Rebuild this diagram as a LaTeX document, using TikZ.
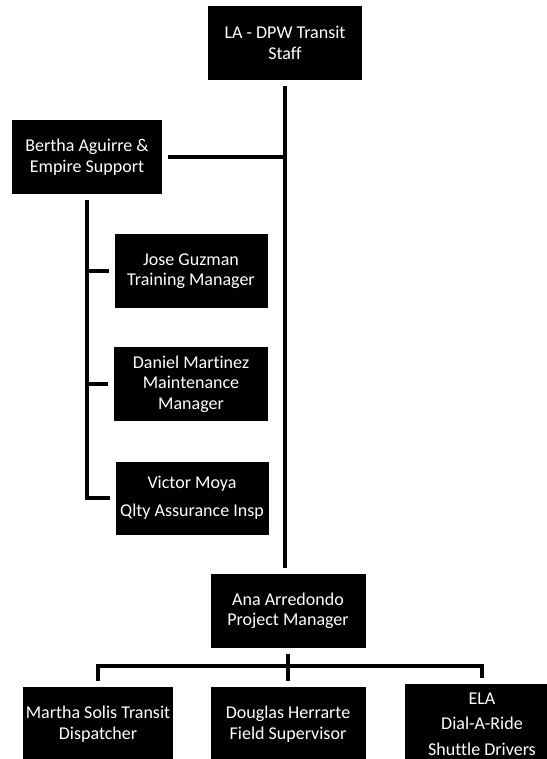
\documentclass[tikz,border=0pt]{standalone}
\usepackage{fontspec}
\setmainfont[Ligatures={NoCommon}]{Carlito}
\usepackage{tikz}
\usetikzlibrary{positioning}
\tikzset{
  staffbox/.style={fill=black,text=white,minimum width=154pt,minimum height=74pt,inner sep=0pt,outer sep=6pt,align=center,font=\fontsize{18}{20.5}\selectfont},
  link/.style={black,line width=3.5pt}
}
\begin{document}
\begin{tikzpicture}[x=1pt,y=-1pt]
\useasboundingbox (0,0) rectangle (546,759);

\node[staffbox] (dpw) at (285,43) {LA - DPW Transit\\Staff};
\node[staffbox,minimum width=150pt] (bertha) at (87,157) {Bertha Aguirre \&\\Empire Support};

\node[staffbox,minimum width=153pt] (jose) at (191,271) {Jose Guzman\\Training Manager};
\node[staffbox] (daniel) at (191,384) {Daniel Martinez\\Maintenance\\Manager};
\node[staffbox,minimum width=153pt,minimum height=73pt] (victor) at (192,498) {Victor Moya\\[8pt]Qlty Assurance Insp};

\node[staffbox,minimum width=155pt] (ana) at (288,611) {Ana Arredondo\\Project Manager};

\node[staffbox,minimum width=150pt] (martha) at (98,724) {Martha Solis Transit\\Dispatcher};
\node[staffbox,minimum width=155pt] (douglas) at (288,724) {Douglas Herrarte\\Field Supervisor};
\node[staffbox,minimum height=80pt] (ela) at (482,724) {ELA\\[5pt]Dial-A-Ride\\[5pt]Shuttle Drivers};

\draw [link] (dpw.south)--(dpw.south |- ana.north);
\draw [link] (bertha.east)--(bertha.east -| dpw.south);
\draw [link] (bertha.south) |- (victor.west);
\draw [link] (bertha.south |- jose.west)--(jose.west);
\draw [link] (bertha.south |- daniel.west)--(daniel.west);

\coordinate [below=12pt of ana.south] (split);
\draw [link] (ana.south)--(douglas.north);
\draw [link] (martha.north) |- (split) -| (ela.north);
\end{tikzpicture}
\end{document}
